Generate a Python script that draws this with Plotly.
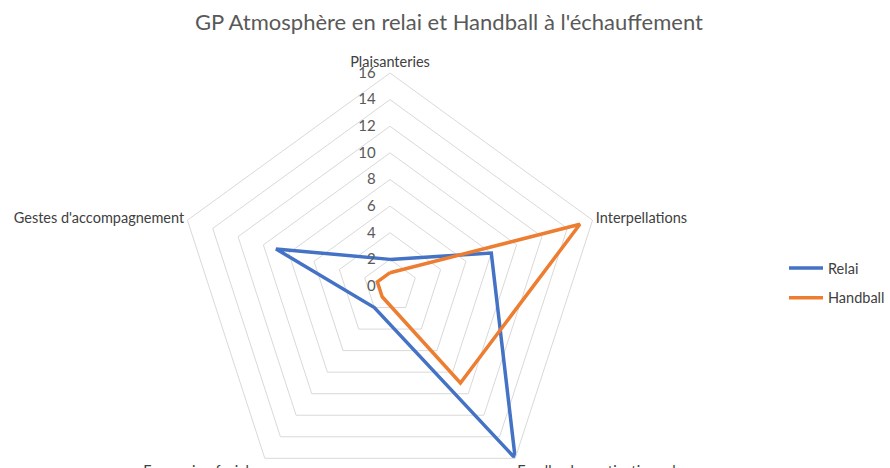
import plotly.graph_objects as go

categories = ["Plaisanteries", "Interpellations", "Feedbacks motivationnels",
              "Expression faciales", "Gestes d'accompagnement"]
relai = [2, 8, 16, 2, 9]
handball = [1, 15, 9, 1, 1]
radial_ticks = [0, 2, 4, 6, 8, 10, 12, 14, 16]

W, H = 890, 520
cx, cy, R = 390, 286, 213

NB = "\u00a0"
tick_text = [str(v) + NB * 3 for v in radial_ticks]

def closed(v):
    return list(v) + [v[0]]

fig = go.Figure()
fig.add_trace(go.Scatterpolar(r=closed(relai), theta=closed(categories), mode="lines",
                              name="Relai", legendgroup="a",
                              line=dict(color="#4472C4", width=3.5)))
fig.add_trace(go.Scatterpolar(r=closed(handball), theta=closed(categories), mode="lines",
                              name="Handball", legendgroup="b",
                              line=dict(color="#ED7D31", width=3.5)))

fig.update_layout(
    width=W, height=H,
    margin=dict(l=0, r=0, t=0, b=0),
    paper_bgcolor="white",
    font=dict(family="Lato", color="#595959"),
    title=dict(text="GP Atmosphère en relai et Handball à l'échauffement",
               x=449 / W, xanchor="center", y=1 - 22 / H, yanchor="middle",
               font=dict(size=22, color="#595959")),
    polar=dict(
        domain=dict(x=[(cx - R) / W, (cx + R) / W], y=[1 - (cy + R) / H, 1 - (cy - R) / H]),
        gridshape="linear",
        bgcolor="white",
        radialaxis=dict(range=[0, 16], tickvals=radial_ticks, ticktext=tick_text,
                        showline=False, ticks="",
                        gridcolor="#D9D9D9", gridwidth=1, angle=90, tickangle=90,
                        side="counterclockwise", tickfont=dict(size=15, color="#595959")),
        angularaxis=dict(rotation=90, direction="clockwise", showgrid=False,
                         showline=True, linecolor="#D9D9D9", linewidth=1, ticks="",
                         tickfont=dict(size=14.5, color="#404040")),
    ),
    legend=dict(x=1.0, xanchor="right", y=1 - 283 / H, yanchor="middle",
                font=dict(size=14.5, color="#404040"), itemwidth=34, tracegroupgap=8),
)

fig.write_html("out.html", config={"displayModeBar": False},
               post_script="document.body.style.margin='0';document.body.style.overflow='hidden';")
